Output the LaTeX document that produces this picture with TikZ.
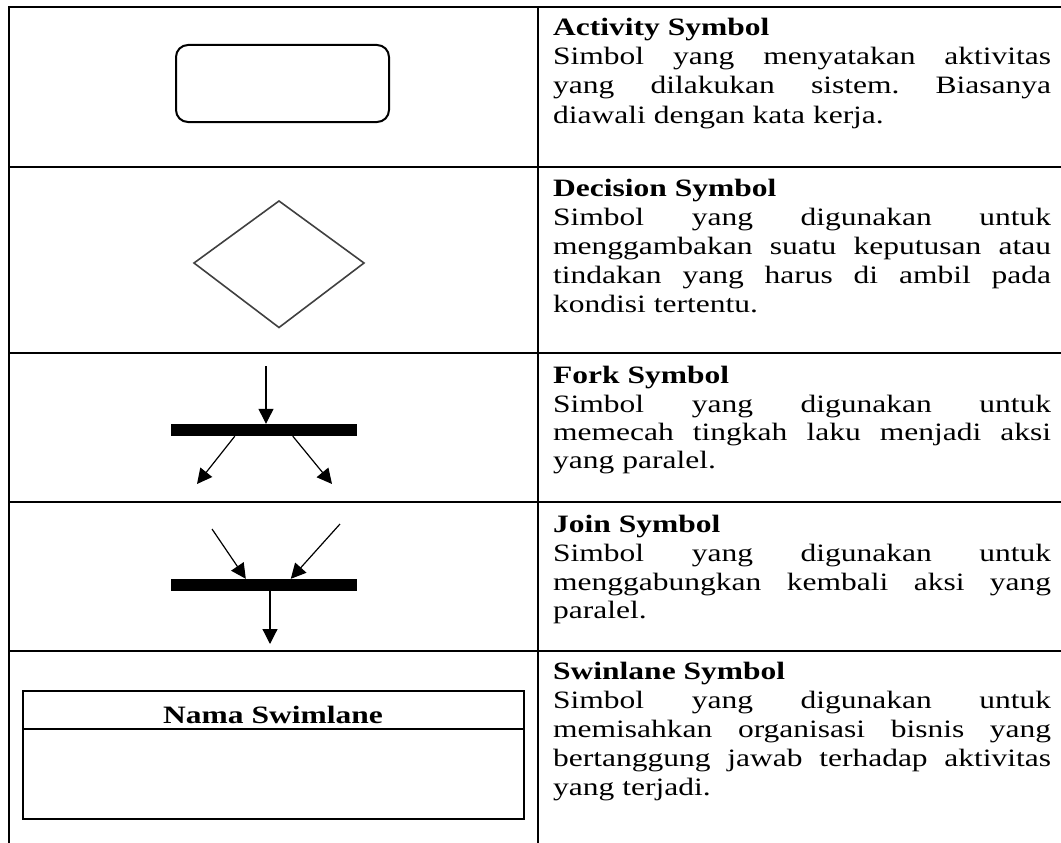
\documentclass[tikz,border=0pt]{standalone}
\usepackage{fontspec}
\usepackage{graphicx}
\setmainfont{Liberation Serif}
\usetikzlibrary{arrows.meta}
\frenchspacing
\newcommand{\txtfont}{\fontsize{25}{29}\selectfont\frenchspacing}
\newcommand{\jl}[1]{\scalebox{1.26}[1]{\makebox[395.2pt][s]{#1}}}
\newcommand{\nl}[1]{\scalebox{1.26}[1]{#1}}
\begin{document}
\begin{tikzpicture}[x=1pt,y=-1pt,
  grid/.style={line width=2pt, line cap=rect},
  ln/.style={anchor=base west, inner sep=0pt, font=\txtfont},
  arr/.style={line width=1.2pt, -{Triangle[length=15pt,width=15pt]}},
  bar/.style={fill=black, draw=none, minimum width=186pt, minimum height=12pt, inner sep=0pt},
  shp/.style={draw, line width=2pt, inner sep=0pt}]
\useasboundingbox (0,0) rectangle (1061,843);
% table grid
\draw[grid] (8.5,7) -- (1061,7);
\draw[grid] (8.5,167) -- (1061,167);
\draw[grid] (8.5,353) -- (1061,353);
\draw[grid] (8.5,502) -- (1061,502);
\draw[grid] (8.5,651) -- (1061,651);
\draw[grid] (8.5,7) -- (8.5,843);
\draw[grid] (537.5,7) -- (537.5,843);
% activity
\node[shp, rounded corners=12pt, minimum width=213pt, minimum height=77pt] (act) at (282.5,83.5) {};
% decision
\coordinate (dt) at (279,201);
\coordinate (dr) at (364,263);
\coordinate (db) at (279,327.5);
\coordinate (dl) at (194,263);
\draw[line width=1.6pt, draw=black!75] (dt) -- (dr) -- (db) -- (dl) -- cycle;
% fork
\node[bar] (fbar) at (264,430) {};
\coordinate (fin) at (266,366);
\coordinate (fo1) at (197,484);
\coordinate (fo2) at (332,484);
\draw[arr] (fin) -- (fin |- fbar.north);
\draw[arr] ([xshift=64pt]fbar.south west) -- (fo1);
\draw[arr] ([xshift=122pt]fbar.south west) -- (fo2);
% join
\node[bar] (jbar) at (264,585) {};
\coordinate (ji1) at (212,529);
\coordinate (ji2) at (340,524);
\coordinate (jout) at (270,644);
\draw[arr] (ji1) -- ([xshift=75pt]jbar.north west);
\draw[arr] (ji2) -- ([xshift=120pt]jbar.north west);
\draw[arr] (jbar.south -| jout) -- (jout);
% swimlane
\node[shp, minimum width=501pt, minimum height=128pt] (swim) at (273.5,755) {};
\path (swim.north west) ++(0,39) coordinate (sl);
\draw[line width=2pt] (sl) -- (sl -| swim.east);
\node[anchor=base, inner sep=0pt, font=\txtfont\bfseries] (sname) at (273,723) {\nl{Nama Swimlane}};
% row 1 text
\node[ln] (h1) at (553,36) {\nl{\textbf{Activity Symbol}}};
\node[ln] (a1) at (553,65) {\jl{Simbol yang menyatakan aktivitas}};
\node[ln] (a2) at (553,94) {\jl{yang dilakukan sistem. Biasanya}};
\node[ln] (a3) at (553,123) {\nl{diawali dengan kata kerja.}};
% row 2 text
\node[ln] (h2) at (553,196) {\nl{\textbf{Decision Symbol}}};
\node[ln] (b1) at (553,225) {\jl{Simbol yang digunakan untuk}};
\node[ln] (b2) at (553,254) {\jl{menggambakan suatu keputusan atau}};
\node[ln] (b3) at (553,283) {\jl{tindakan yang harus di ambil pada}};
\node[ln] (b4) at (553,312) {\nl{kondisi tertentu.}};
% row 3 text
\node[ln] (h3) at (553,383) {\nl{\textbf{Fork Symbol}}};
\node[ln] (c1) at (553,412) {\jl{Simbol yang digunakan untuk}};
\node[ln] (c2) at (553,440) {\jl{memecah tingkah laku menjadi aksi}};
\node[ln] (c3) at (553,468) {\nl{yang paralel.}};
% row 4 text
\node[ln] (h4) at (553,532) {\nl{\textbf{Join Symbol}}};
\node[ln] (d1) at (553,561) {\jl{Simbol yang digunakan untuk}};
\node[ln] (d2) at (553,590) {\jl{menggabungkan kembali aksi yang}};
\node[ln] (d3) at (553,618) {\nl{paralel.}};
% row 5 text
\node[ln] (h5) at (553,679) {\nl{\textbf{Swinlane Symbol}}};
\node[ln] (e1) at (553,708) {\jl{Simbol yang digunakan untuk}};
\node[ln] (e2) at (553,737) {\jl{memisahkan organisasi bisnis yang}};
\node[ln] (e3) at (553,766) {\jl{bertanggung jawab terhadap aktivitas}};
\node[ln] (e4) at (553,795) {\nl{yang terjadi.}};
\end{tikzpicture}
\end{document}
